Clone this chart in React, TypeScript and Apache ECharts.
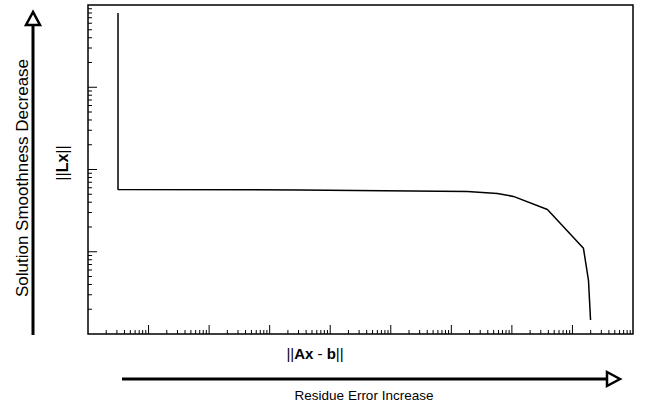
import React, { useEffect, useRef } from "react";
import * as echarts from "echarts";

// L-curve data (||Ax - b||, ||Lx||)
const residualNorm = [3.13, 3.13, 3190, 1.84e6, 5.76e6, 1.06e7, 3.86e7, 1.52e8, 1.84e8, 1.99e8];
const solutionNorm = [8000, 57.2, 56.5, 54.1, 51.2, 47.1, 32.7, 11.0, 4.5, 1.48];

// axis ranges (log decades)
const X_MIN = 1;
const X_MAX = 1e9;
const Y_MIN = 1;
const Y_MAX = 1e4;
const xDecades = [0, 1, 2, 3, 4, 5, 6, 7, 8];
const yDecades = [0, 1, 2, 3];
const minorMultipliers = [2, 3, 4, 5, 6, 7, 8, 9];

const xMajorTicks = [1, 2, 3, 4, 5, 6, 7, 8].map((d) => Math.pow(10, d));
const yMajorTicks = [1, 2, 3].map((d) => Math.pow(10, d));
const xMinorTicks: number[] = [];
xDecades.forEach((d) => minorMultipliers.forEach((m) => xMinorTicks.push(m * Math.pow(10, d))));
const yMinorTicks: number[] = [];
yDecades.forEach((d) => minorMultipliers.forEach((m) => yMinorTicks.push(m * Math.pow(10, d))));

const FONT = "'Liberation Sans', Arial, Helvetica, sans-serif";

function tickSeries(name: string, values: number[], horizontal: boolean, len: number) {
  return {
    name,
    type: "custom",
    silent: true,
    clip: false,
    data: values.map((v) => [v]),
    renderItem: (_params: any, api: any) => {
      const v = api.value(0);
      if (horizontal) {
        const p = api.coord([v, Y_MIN]);
        return {
          type: "line",
          shape: { x1: p[0], y1: p[1], x2: p[0], y2: p[1] - len },
          style: { stroke: "#000", lineWidth: 1 },
        };
      }
      const p = api.coord([X_MIN, v]);
      return {
        type: "line",
        shape: { x1: p[0], y1: p[1], x2: p[0] + len, y2: p[1] },
        style: { stroke: "#000", lineWidth: 1 },
      };
    },
  };
}

export default function App() {
  const ref = useRef<HTMLDivElement>(null);
  useEffect(() => {
    if (!ref.current) return;
    const chart = echarts.init(ref.current, null, { renderer: "svg" });
    chart.setOption({
      animation: false,
      backgroundColor: "#fff",
      grid: {
        left: 88,
        right: 13,
        top: 5,
        bottom: 75,
        show: true,
        borderColor: "#000",
        borderWidth: 1.5,
        backgroundColor: "transparent",
      },
      xAxis: {
        type: "log",
        logBase: 10,
        min: X_MIN,
        max: X_MAX,
        axisLine: { show: false },
        axisTick: { show: false },
        axisLabel: { show: false },
        splitLine: { show: false },
      },
      yAxis: {
        type: "log",
        logBase: 10,
        min: Y_MIN,
        max: Y_MAX,
        axisLine: { show: false },
        axisTick: { show: false },
        axisLabel: { show: false },
        splitLine: { show: false },
      },
      series: [
        {
          type: "line",
          data: residualNorm.map((x, i) => [x, solutionNorm[i]]),
          showSymbol: false,
          symbol: "none",
          lineStyle: { color: "#000", width: 1.5 },
        },
        tickSeries("xMajor", xMajorTicks, true, 9),
        tickSeries("xMinor", xMinorTicks, true, 4),
        tickSeries("yMajor", yMajorTicks, false, 9),
        tickSeries("yMinor", yMinorTicks, false, 4),
      ],
      graphic: [
        // Left arrow
        {
          type: "line",
          shape: { x1: 33, y1: 335, x2: 33, y2: 25 },
          style: { stroke: "#000", lineWidth: 3 },
        },
        {
          type: "polygon",
          shape: { points: [[33, 12], [26, 25], [40, 25]] },
          style: { fill: "#fff", stroke: "#000", lineWidth: 2.5 },
        },
        {
          type: "text",
          x: 22,
          y: 178,
          rotation: Math.PI / 2,
          style: {
            text: "Solution Smoothness Decrease",
            font: `17px ${FONT}`,
            fill: "#000",
            align: "center",
            verticalAlign: "middle",
          },
        },
        {
          type: "text",
          x: 62,
          y: 163,
          rotation: Math.PI / 2,
          style: {
            text: "||{b|Lx}||",
            font: `16px ${FONT}`,
            fill: "#000",
            align: "center",
            verticalAlign: "middle",
            rich: { b: { fontWeight: "bold", fontSize: 16, fontFamily: FONT } },
          },
        },
        {
          type: "text",
          x: 315,
          y: 353,
          style: {
            text: "||{b|Ax} - {b|b}||",
            font: `15px ${FONT}`,
            fill: "#000",
            align: "center",
            verticalAlign: "middle",
            rich: { b: { fontWeight: "bold", fontSize: 15, fontFamily: FONT } },
          },
        },
        // Bottom arrow
        {
          type: "line",
          shape: { x1: 122, y1: 379, x2: 608, y2: 379 },
          style: { stroke: "#000", lineWidth: 3 },
        },
        {
          type: "polygon",
          shape: { points: [[620, 379], [607, 372], [607, 386]] },
          style: { fill: "#fff", stroke: "#000", lineWidth: 2.5 },
        },
        {
          type: "text",
          x: 364,
          y: 395,
          style: {
            text: "Residue Error Increase",
            font: `13.5px ${FONT}`,
            fill: "#000",
            align: "center",
            verticalAlign: "middle",
          },
        },
      ],
    });
    return () => chart.dispose();
  }, []);
  return (
    <div
      ref={ref}
      style={{ position: "fixed", left: 0, top: 0, width: 646, height: 409, background: "#fff" }}
    />
  );
}
